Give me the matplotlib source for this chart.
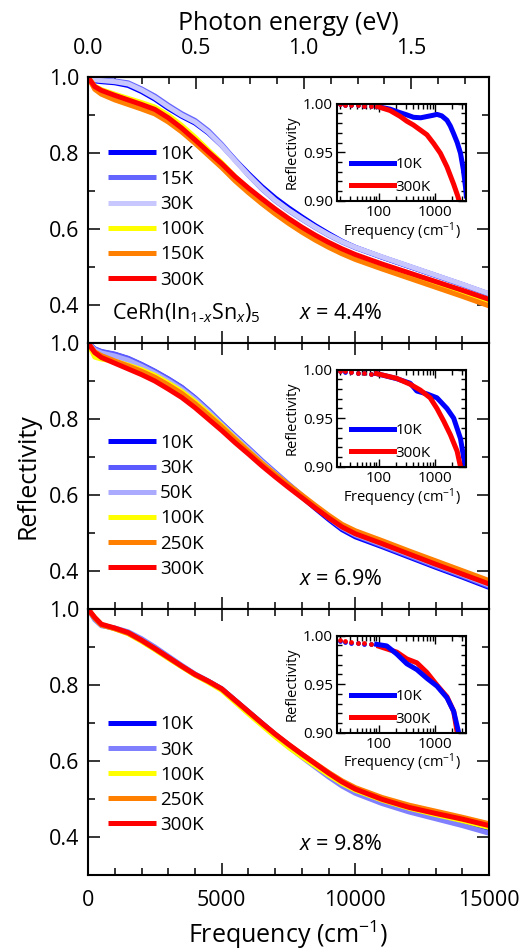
import numpy as np
import matplotlib
matplotlib.use('Agg')
import matplotlib.pyplot as plt
from matplotlib.ticker import MultipleLocator, FormatStrFormatter, LogLocator, NullFormatter, FixedLocator, FixedFormatter

plt.rcParams['font.family'] = ['Open Sans', 'DejaVu Sans']
plt.rcParams['mathtext.fontset'] = 'custom'
plt.rcParams['mathtext.rm'] = 'Open Sans'
plt.rcParams['mathtext.it'] = 'Open Sans:italic'

# main spectra (frequency in cm^-1, reflectivity)
freq = [0, 250, 500, 1000, 1500, 2000, 2500, 3000, 3500, 4000, 4500, 5000, 5500, 6000,
        6500, 7000, 7500, 8000, 8500, 9000, 9500, 10000, 11000, 12000, 13000, 14000, 15000]

# x = 4.4 %
r1_10 = [1.000, 0.990, 0.988, 0.985, 0.978, 0.962, 0.942, 0.918, 0.897, 0.879, 0.853, 0.820, 0.782, 0.746,
         0.712, 0.682, 0.656, 0.632, 0.609, 0.588, 0.568, 0.552, 0.526, 0.502, 0.478, 0.454, 0.429]
r1_15 = [1.000, 0.994, 0.992, 0.990, 0.985, 0.969, 0.950, 0.926, 0.904, 0.886, 0.859, 0.823, 0.782, 0.742,
         0.706, 0.675, 0.649, 0.626, 0.604, 0.584, 0.566, 0.551, 0.526, 0.502, 0.478, 0.454, 0.429]
r1_30 = [1.000, 0.993, 0.991, 0.988, 0.982, 0.966, 0.946, 0.922, 0.900, 0.882, 0.855, 0.820, 0.780, 0.742,
         0.707, 0.676, 0.650, 0.627, 0.605, 0.585, 0.567, 0.552, 0.527, 0.503, 0.479, 0.455, 0.430]
r1_100 = [1.000, 0.976, 0.967, 0.955, 0.944, 0.933, 0.921, 0.900, 0.873, 0.842, 0.808, 0.775, 0.738, 0.706,
          0.676, 0.648, 0.622, 0.599, 0.578, 0.559, 0.542, 0.527, 0.501, 0.478, 0.454, 0.430, 0.405]
r1_150 = [1.000, 0.968, 0.955, 0.940, 0.928, 0.916, 0.903, 0.882, 0.856, 0.826, 0.794, 0.762, 0.727, 0.696,
          0.667, 0.640, 0.615, 0.592, 0.571, 0.552, 0.535, 0.520, 0.495, 0.471, 0.447, 0.423, 0.398]
r1_300 = [1.000, 0.975, 0.965, 0.952, 0.940, 0.928, 0.915, 0.893, 0.866, 0.835, 0.803, 0.772, 0.738, 0.708,
          0.680, 0.653, 0.628, 0.605, 0.584, 0.565, 0.548, 0.533, 0.508, 0.485, 0.462, 0.439, 0.415]

# x = 6.9 %
r2_10 = [1.000, 0.984, 0.977, 0.970, 0.959, 0.943, 0.925, 0.905, 0.883, 0.855, 0.823, 0.788, 0.755, 0.722,
         0.688, 0.656, 0.625, 0.595, 0.565, 0.536, 0.509, 0.490, 0.464, 0.437, 0.410, 0.384, 0.357]
r2_30 = [1.000, 0.985, 0.978, 0.971, 0.960, 0.944, 0.926, 0.906, 0.884, 0.856, 0.824, 0.789, 0.756, 0.724,
         0.691, 0.660, 0.629, 0.599, 0.569, 0.540, 0.513, 0.494, 0.467, 0.440, 0.413, 0.387, 0.360]
r2_50 = [1.000, 0.982, 0.974, 0.966, 0.955, 0.939, 0.921, 0.901, 0.879, 0.852, 0.820, 0.786, 0.753, 0.721,
         0.688, 0.657, 0.627, 0.598, 0.569, 0.541, 0.515, 0.496, 0.470, 0.443, 0.416, 0.390, 0.363]
r2_100 = [1.000, 0.963, 0.958, 0.952, 0.942, 0.930, 0.915, 0.895, 0.873, 0.846, 0.815, 0.783, 0.749, 0.716,
          0.684, 0.654, 0.625, 0.597, 0.570, 0.544, 0.520, 0.503, 0.477, 0.450, 0.424, 0.398, 0.372]
r2_250 = [1.000, 0.977, 0.967, 0.953, 0.940, 0.926, 0.910, 0.890, 0.868, 0.841, 0.811, 0.780, 0.747, 0.715,
          0.684, 0.655, 0.627, 0.600, 0.573, 0.547, 0.523, 0.506, 0.480, 0.453, 0.427, 0.401, 0.375]
r2_300 = [1.000, 0.975, 0.962, 0.947, 0.932, 0.917, 0.900, 0.879, 0.857, 0.830, 0.800, 0.770, 0.738, 0.708,
          0.677, 0.648, 0.620, 0.593, 0.566, 0.540, 0.516, 0.498, 0.472, 0.445, 0.418, 0.392, 0.366]

# x = 9.8 %
r3_10 = [1.000, 0.975, 0.958, 0.949, 0.937, 0.917, 0.895, 0.872, 0.850, 0.828, 0.810, 0.790, 0.760, 0.730,
         0.700, 0.670, 0.642, 0.616, 0.590, 0.565, 0.541, 0.521, 0.494, 0.472, 0.455, 0.438, 0.418]
r3_30 = [1.000, 0.972, 0.956, 0.950, 0.940, 0.922, 0.900, 0.876, 0.852, 0.829, 0.810, 0.789, 0.758, 0.727,
         0.696, 0.666, 0.637, 0.610, 0.584, 0.558, 0.534, 0.515, 0.488, 0.466, 0.448, 0.430, 0.410]
r3_100 = [1.000, 0.977, 0.959, 0.948, 0.935, 0.915, 0.893, 0.870, 0.848, 0.826, 0.807, 0.786, 0.755, 0.724,
          0.694, 0.664, 0.636, 0.611, 0.587, 0.563, 0.541, 0.523, 0.497, 0.476, 0.459, 0.443, 0.425]
r3_250 = [1.000, 0.976, 0.958, 0.948, 0.936, 0.917, 0.895, 0.872, 0.849, 0.827, 0.809, 0.789, 0.759, 0.729,
          0.699, 0.670, 0.643, 0.618, 0.594, 0.570, 0.548, 0.530, 0.504, 0.484, 0.468, 0.452, 0.435]
r3_300 = [1.000, 0.978, 0.960, 0.950, 0.938, 0.918, 0.896, 0.873, 0.850, 0.828, 0.810, 0.790, 0.760, 0.730,
          0.700, 0.671, 0.644, 0.618, 0.593, 0.568, 0.545, 0.526, 0.499, 0.478, 0.462, 0.447, 0.430]

# insets: low-frequency reflectivity, 10K and 300K
dots_f = [20, 25, 32, 42, 55, 72]

ins1_f10 = [95, 157, 230, 312, 410, 550, 710, 900, 1070, 1300, 1610, 1850, 2120, 2450, 2800, 3150, 3440, 3550]
ins1_r10 = [0.997, 0.9944, 0.991, 0.9885, 0.986, 0.9855, 0.9868, 0.988, 0.989, 0.9875, 0.983, 0.977,
            0.969, 0.960, 0.949, 0.932, 0.914, 0.905]
ins1_f300 = [95, 157, 237, 312, 410, 540, 710, 935, 1230, 1610, 2120, 2500, 2800]
ins1_r300 = [0.997, 0.993, 0.987, 0.982, 0.978, 0.973, 0.968, 0.959, 0.949, 0.935, 0.917, 0.905, 0.895]
ins1_d10 = [0.9993, 0.9990, 0.9986, 0.9982, 0.9978, 0.9974]
ins1_d300 = [0.9995, 0.9991, 0.9988, 0.9983, 0.9980, 0.9975]

ins2_f10 = [90, 207, 357, 410, 470, 710, 1070, 1610, 2120, 2800, 3200, 3450]
ins2_r10 = [0.996, 0.9907, 0.986, 0.982, 0.978, 0.975, 0.971, 0.960, 0.950, 0.929, 0.909, 0.900]
ins2_f300 = [90, 207, 357, 540, 810, 1070, 1410, 1850, 2440, 2800]
ins2_r300 = [0.996, 0.991, 0.985, 0.979, 0.971, 0.960, 0.947, 0.933, 0.916, 0.900]
ins2_d10 = [0.9988, 0.9980, 0.9975, 0.9970, 0.9962, 0.9960]
ins2_d300 = [0.9990, 0.9982, 0.9976, 0.9970, 0.9964, 0.9960]

ins3_f10 = [91, 137, 207, 312, 470, 710, 1070, 1610, 2120, 2600]
ins3_r10 = [0.991, 0.9894, 0.981, 0.971, 0.965, 0.956, 0.948, 0.936, 0.922, 0.900]
ins3_f300 = [100, 207, 312, 470, 710, 1070, 1610, 2120, 2450]
ins3_r300 = [0.989, 0.983, 0.976, 0.972, 0.962, 0.949, 0.937, 0.922, 0.900]
ins3_d10 = [0.9948, 0.9938, 0.9928, 0.9923, 0.9918, 0.9913]
ins3_d300 = [0.9950, 0.9940, 0.9930, 0.9925, 0.9920, 0.9915]

panels = [
    {'labels': ['10K', '15K', '30K', '100K', '150K', '300K'],
     'data': [r1_10, r1_15, r1_30, r1_100, r1_150, r1_300],
     'colors': ['#0000ff', '#6464ff', '#c8c8ff', '#ffff00', '#ff8000', '#ff0000'],
     'x': '4.4', 'leg': 0.745,
     'ins': (ins1_f10, ins1_r10, ins1_f300, ins1_r300, ins1_d10, ins1_d300)},
    {'labels': ['10K', '30K', '50K', '100K', '250K', '300K'],
     'data': [r2_10, r2_30, r2_50, r2_100, r2_250, r2_300],
     'colors': ['#0000ff', '#5a5aff', '#aaaaff', '#ffff00', '#ff8000', '#ff0000'],
     'x': '6.9', 'leg': 0.658,
     'ins': (ins2_f10, ins2_r10, ins2_f300, ins2_r300, ins2_d10, ins2_d300)},
    {'labels': ['10K', '30K', '100K', '250K', '300K'],
     'data': [r3_10, r3_30, r3_100, r3_250, r3_300],
     'colors': ['#0000ff', '#8080ff', '#ffff00', '#ff8000', '#ff0000'],
     'x': '9.8', 'leg': 0.600,
     'ins': (ins3_f10, ins3_r10, ins3_f300, ins3_r300, ins3_d10, ins3_d300)},
]

fig = plt.figure(figsize=(5.21, 9.52), dpi=100)
axes = fig.subplots(3, 1, sharex=True)
fig.subplots_adjust(left=0.169, right=0.9386, top=0.919, bottom=0.0809, hspace=0)

for i, (ax, p) in enumerate(zip(axes, panels)):
    for lab, r, c in zip(p['labels'], p['data'], p['colors']):
        ax.plot(freq, r, color=c, lw=3.6, label=lab, solid_capstyle='butt')
    ax.set_xlim(0, 15000)
    ax.set_ylim(0.3, 1.0)
    ax.xaxis.set_major_locator(MultipleLocator(5000))
    ax.xaxis.set_minor_locator(MultipleLocator(1000))
    ax.yaxis.set_major_locator(FixedLocator([0.4, 0.6, 0.8, 1.0]))
    ax.yaxis.set_major_formatter(FormatStrFormatter('%.1f'))
    ax.yaxis.set_minor_locator(MultipleLocator(0.1))
    for s in ax.spines.values():
        s.set_linewidth(1.5)
    ax.tick_params(which='both', direction='in', right=True, top=(i > 0), width=1.1, labelsize=15.5)
    ax.tick_params(which='major', length=8.5)
    ax.tick_params(which='minor', length=5)
    ax.tick_params(axis='y', pad=6)
    ax.tick_params(axis='x', pad=11)

    ax.legend(loc='upper left', bbox_to_anchor=(0.05, p['leg']), frameon=False, fontsize=13.5,
              handlelength=2.56, handletextpad=0.2, labelspacing=0.38, borderpad=0, borderaxespad=0)
    ax.text(9450, 0.379, '$x$ = ' + p['x'] + '%', fontsize=15.5, ha='center', va='center')

    # inset
    f10, rr10, f300, rr300, d10, d300 = p['ins']
    ins = ax.inset_axes([0.621, 0.535, 0.322, 0.365])
    ins.plot(dots_f, d10, 'o', color='#0000ff', ms=3.4, mew=0)
    ins.plot(dots_f, d300, 'o', color='#ff0000', ms=3.4, mew=0)
    l10, = ins.plot(f10, rr10, color='#0000ff', lw=3.6, label='10K')
    l300, = ins.plot(f300, rr300, color='#ff0000', lw=3.6, label='300K')
    if i == 2:
        l300.set_zorder(1.5)
    ins.set_xscale('log')
    ins.set_xlim(18, 3530)
    ins.set_ylim(0.9, 1.0)
    ins.set_yticks([0.90, 0.95, 1.00])
    ins.yaxis.set_major_formatter(FormatStrFormatter('%.2f'))
    ins.yaxis.set_minor_locator(MultipleLocator(0.01))
    ins.xaxis.set_major_locator(FixedLocator([100, 1000]))
    ins.xaxis.set_major_formatter(FixedFormatter(['100', '1000']))
    ins.xaxis.set_minor_locator(LogLocator(base=10, subs=np.arange(2, 10)))
    ins.xaxis.set_minor_formatter(NullFormatter())
    for s in ins.spines.values():
        s.set_linewidth(1.5)
    ins.tick_params(which='both', direction='in', top=True, right=True, width=1.0, labelsize=11, pad=3)
    ins.tick_params(which='major', length=6)
    ins.tick_params(which='minor', length=3.5)
    ins.set_ylabel('Reflectivity', fontsize=10.5, labelpad=2)
    ins.set_xlabel('Frequency (cm$^{-1}$)', fontsize=10.5, labelpad=0)
    ins.legend([l10, l300], ['10K', '300K'], loc='upper left', bbox_to_anchor=(0.11, 0.45), frameon=False,
               fontsize=11, handlelength=2.8, handletextpad=0.12, labelspacing=0.5,
               borderpad=0, borderaxespad=0)

axes[0].text(900, 0.379, 'CeRh(In$_{1\u2010x}$Sn$_x$)$_5$', fontsize=15.5, ha='left', va='center')
axes[1].set_ylabel('Reflectivity', fontsize=18, labelpad=6)
axes[2].set_xlabel('Frequency (cm$^{-1}$)', fontsize=18, labelpad=5)

top = axes[0].secondary_xaxis('top', functions=(lambda f: f / 8065.54, lambda e: e * 8065.54))
top.xaxis.set_major_locator(FixedLocator([0.0, 0.5, 1.0, 1.5]))
top.xaxis.set_minor_locator(FixedLocator([0.125 * k for k in range(15)]))
top.xaxis.set_major_formatter(FormatStrFormatter('%.1f'))
top.tick_params(which='both', direction='in', width=1.1, labelsize=15.5, pad=13)
top.tick_params(which='major', length=8.5)
top.tick_params(which='minor', length=5)
top.spines['top'].set_linewidth(1.5)
top.set_xlabel('Photon energy (eV)', fontsize=18, labelpad=6)

fig.savefig('out.png', dpi=100)
